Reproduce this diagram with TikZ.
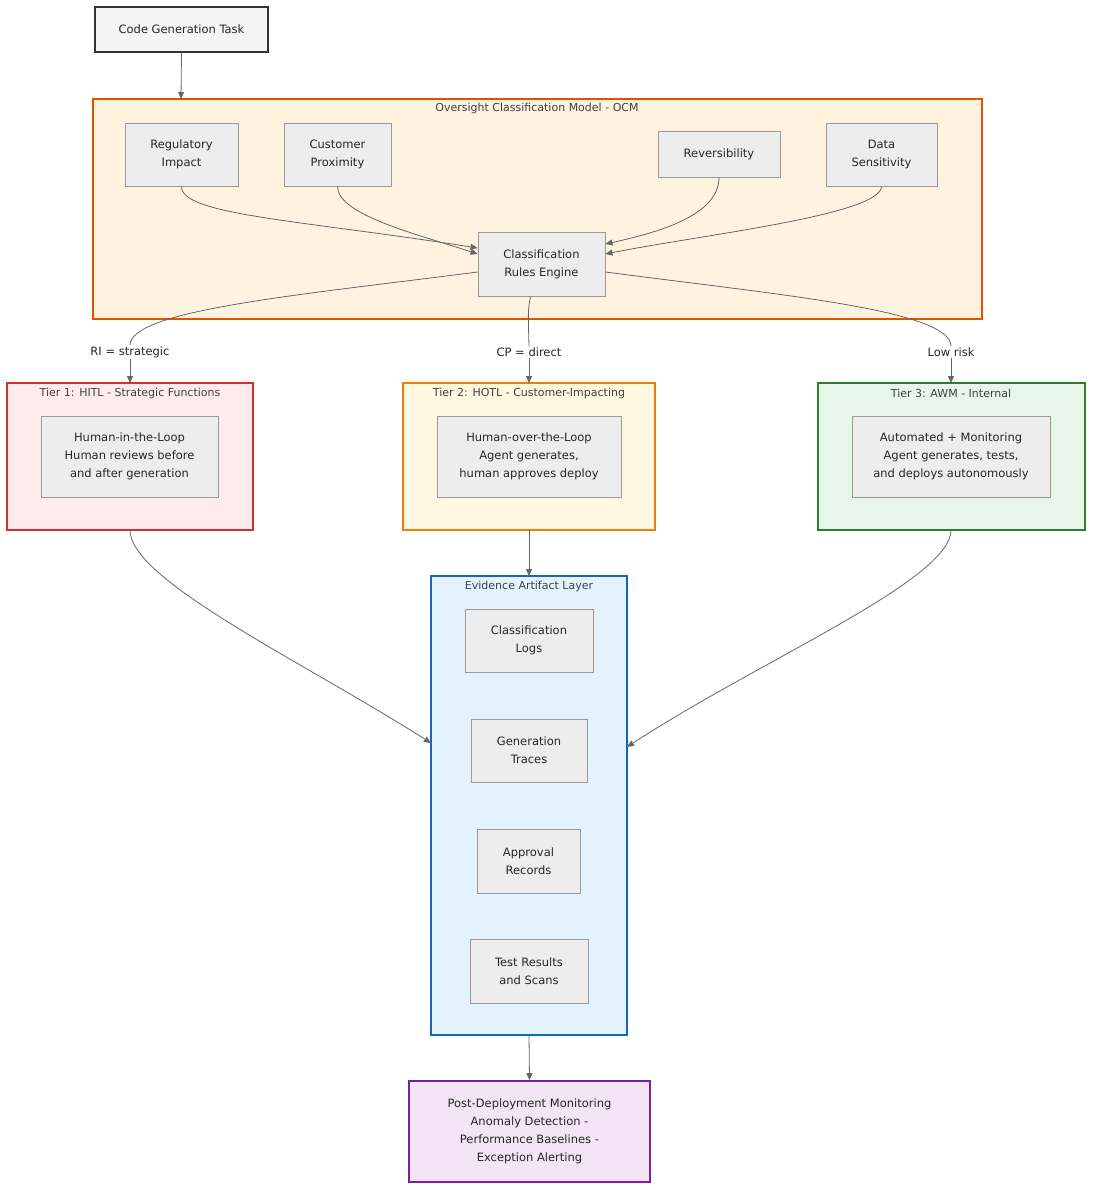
\documentclass[tikz,border=0pt]{standalone}
\usepackage{fontspec}
\setmainfont{DejaVu Sans}
\usetikzlibrary{arrows.meta}
\definecolor{ln}{HTML}{666666}
\definecolor{ocmB}{HTML}{E65100}\definecolor{ocmF}{HTML}{FFF3E0}
\definecolor{t1B}{HTML}{D32F2F}\definecolor{t1F}{HTML}{FFEBEE}
\definecolor{t2B}{HTML}{F57C00}\definecolor{t2F}{HTML}{FFF8E1}
\definecolor{t3B}{HTML}{2E7D32}\definecolor{t3F}{HTML}{E8F5E9}
\definecolor{evB}{HTML}{1565C0}\definecolor{evF}{HTML}{E3F2FD}
\definecolor{poB}{HTML}{7B1FA2}\definecolor{poF}{HTML}{F3E5F5}
\begin{document}
\begin{tikzpicture}[x=1pt,y=-1pt,
 every node/.style={font=\fontsize{11.5}{18}\selectfont, text=black!85, align=center},
 box/.style={draw=black!40, fill=black!7, line width=0.8pt},
 clu/.style={line width=1.6pt},
 ttl/.style={font=\fontsize{11}{13}\selectfont, text=black!75},
 ar/.style={draw=ln, line width=0.8pt, -{Triangle[length=7pt,width=6pt]}},
 li/.style={draw=ln, line width=0.8pt},
 lab/.style={fill=white, inner sep=1pt}]
\useasboundingbox (0,0) rectangle (1092,1190);
% clusters
\draw[clu, draw=ocmB, fill=ocmF] (93,99) rectangle (982,319);
\node[ttl] (tocm) at (537,108) {Oversight Classification Model - OCM};
\draw[clu, draw=t1B, fill=t1F] (7,383) rectangle (253,530);
\node[ttl] (tt1) at (130,393) {Tier 1: HITL - Strategic Functions};
\draw[clu, draw=t2B, fill=t2F] (403,383) rectangle (655,530);
\node[ttl] (tt2) at (529,393) {Tier 2: HOTL - Customer-Impacting};
\draw[clu, draw=t3B, fill=t3F] (818,383) rectangle (1085,530);
\node[ttl] (tt3) at (951,393) {Tier 3: AWM - Internal};
\draw[clu, draw=evB, fill=evF] (431,576) rectangle (627,1035);
\node[ttl] (tev) at (529,586) {Evidence Artifact Layer};
% tier coordinates
\coordinate (t1top) at (130,383); \coordinate (t1bot) at (130,530);
\coordinate (t2top) at (529,383); \coordinate (t2bot) at (529,530);
\coordinate (t3top) at (951,383); \coordinate (t3bot) at (951,530);
\coordinate (evtop) at (529,576); \coordinate (evbot) at (529,1035);
\coordinate (evl) at (431,743); \coordinate (evr) at (627,747);
\coordinate (ocmtop) at (181,99);
% nodes
\node[draw=black!80, fill=black!4, line width=1.3pt, minimum width=173pt, minimum height=45pt] (task) at (181.5,29.5) {Code Generation Task};
\node[box, minimum width=113pt, minimum height=63pt] (reg) at (181.5,154.5) {Regulatory\\Impact};
\node[box, minimum width=107pt, minimum height=63pt] (cus) at (337.5,154.5) {Customer\\Proximity};
\node[box, minimum width=122pt, minimum height=46pt] (rev) at (719,154) {Reversibility};
\node[box, minimum width=111pt, minimum height=63pt] (dat) at (881.5,154.5) {Data\\Sensitivity};
\node[box, minimum width=127pt, minimum height=64pt] (eng) at (541.5,264) {Classification\\Rules Engine};
\node[box, minimum width=177pt, minimum height=81pt] (h1) at (129.5,456.5) {Human-in-the-Loop\\Human reviews before\\and after generation};
\node[box, minimum width=184pt, minimum height=81pt] (h2) at (529,456.5) {Human-over-the-Loop\\Agent generates,\\human approves deploy};
\node[box, minimum width=198pt, minimum height=81pt] (h3) at (951,456.5) {Automated + Monitoring\\Agent generates, tests,\\and deploys autonomously};
\node[box, minimum width=128pt, minimum height=63pt] (e1) at (529,640.5) {Classification\\Logs};
\node[box, minimum width=116pt, minimum height=63pt] (e2) at (529,750.5) {Generation\\Traces};
\node[box, minimum width=103pt, minimum height=64pt] (e3) at (528.5,861) {Approval\\Records};
\node[box, minimum width=118pt, minimum height=64pt] (e4) at (529,971) {Test Results\\and Scans};
\node[draw=poB, fill=poF, line width=1.6pt, minimum width=241pt, minimum height=101pt] (post) at (529.5,1131.5) {Post-Deployment Monitoring\\Anomaly Detection -\\Performance Baselines -\\Exception Alerting};
% edges
\draw[ar] (task.south) -- (ocmtop);
\draw[ar] (reg.south) .. controls (181,215) and (300,220) .. (eng.west |- 0,248);
\draw[ar] (cus.south) .. controls (337,215) and (420,235) .. (eng.west |- 0,254);
\draw[ar] (rev.south) .. controls (719,215) and (660,232) .. (eng.east |- 0,244);
\draw[ar] (dat.south) .. controls (881,215) and (700,235) .. (eng.east |- 0,254);
\node[lab] (l1) at (130,352) {RI = strategic};
\node[lab] (l2) at (529,352) {CP = direct};
\node[lab] (l3) at (951,352) {Low risk};
\draw[li] (eng.west |- 0,272) .. controls (300,295) and (130,310) .. (l1.north);
\draw[ar] (l1.south) -- (t1top);
\draw[li] (eng.south) ++(-11,0) .. controls (528,310) .. (l2.north);
\draw[ar] (l2.south) -- (t2top);
\draw[li] (eng.east |- 0,272) .. controls (780,295) and (951,310) .. (l3.north);
\draw[ar] (l3.south) -- (t3top);
\draw[ar] (t1bot) .. controls (130,580) and (300,660) .. (evl);
\draw[ar] (t2bot) -- (evtop);
\draw[ar] (t3bot) .. controls (951,580) and (760,660) .. (evr);
\draw[ar] (evbot) -- (post.north);
\end{tikzpicture}
\end{document}
